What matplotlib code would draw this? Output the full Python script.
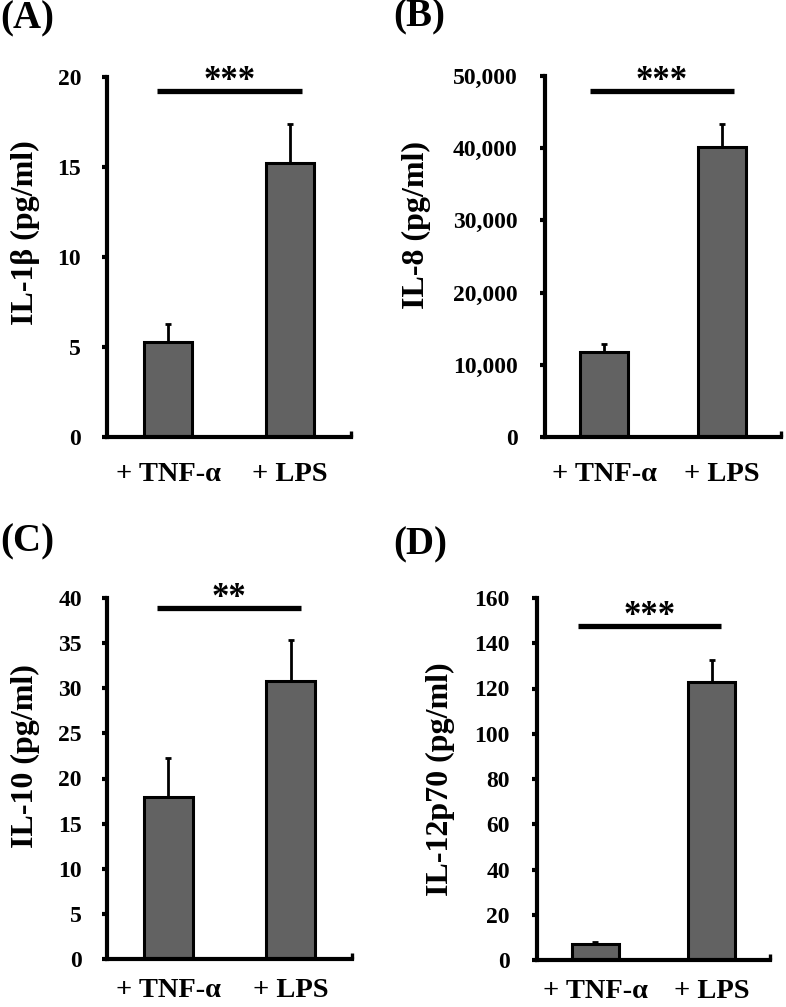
import matplotlib.pyplot as plt
import matplotlib.ticker as mticker
import numpy as np

plt.rcParams['font.family'] = ['Liberation Serif', 'DejaVu Serif']
plt.rcParams['font.weight'] = 'bold'

groups = ['+ TNF-\u03b1', '+ LPS']

il1b = [5.3, 15.2]
il1b_err = [1.0, 2.2]
il8 = [11800, 40150]
il8_err = [1100, 3200]
il10 = [18.0, 30.8]
il10_err = [4.3, 4.5]
il12 = [7.0, 122.8]
il12_err = [0.8, 9.8]

panel_tags = ['(A)', '(B)', '(C)', '(D)']
ylabels = ['IL-1\u03b2 (pg/ml)', 'IL-8 (pg/ml)', 'IL-10 (pg/ml)', 'IL-12p70 (pg/ml)']
stars = ['***', '***', '**', '***']
ymax = [20, 50000, 40, 160]
ystep = [5, 10000, 5, 20]
sig_y = [19.2, 47900, 38.9, 147.6]

# layout in pixels of the 786x1007 figure: (left, bottom, right, top)
W, H = 786, 1007
boxes = [
    (107, 437, 351, 77),
    (545, 437, 781, 76),
    (107, 959, 352, 598),
    (537, 960, 770, 598),
]
tag_xy = [(0, 19), (393, 17), (0, 542), (393, 545)]
ylab_px = [(25, 233), (416, 225), (25, 756), (440, 779)]
ytick_pad = [15, 16, 14.5, 16]
xtick_pad = [18, 18, 13.5, 13.5]
sig_span = [(-0.09, 1.1), (-0.12, 1.1), (-0.09, 1.08), (-0.15, 1.08)]

data = [(il1b, il1b_err), (il8, il8_err), (il10, il10_err), (il12, il12_err)]

fig = plt.figure(figsize=(7.86, 10.07), dpi=100)
x = np.arange(len(groups))

for i, (vals, errs) in enumerate(data):
    l, b, r, t = boxes[i]
    ax = fig.add_axes([l / W, 1 - b / H, (r - l) / W, (b - t) / H])
    ax.bar(x, vals, width=0.40, color='#626262', edgecolor='black', linewidth=2.2, zorder=2)
    ax.errorbar(x, vals, yerr=[np.zeros(len(vals)), errs], fmt='none', ecolor='black',
                elinewidth=2.0, capsize=2.5, capthick=2.0, zorder=3)

    ax.set_xlim(-0.5, 1.5)
    ax.set_ylim(0, ymax[i])
    ax.set_yticks(np.arange(0, ymax[i] + 1, ystep[i]))
    if ymax[i] >= 10000:
        ax.yaxis.set_major_formatter(mticker.StrMethodFormatter('{x:,.0f}'))
    ax.set_xticks(x)
    ax.set_xticklabels(groups)
    ax.set_xticks([1.5], minor=True)

    for s in ['top', 'right']:
        ax.spines[s].set_visible(False)
    for s in ['left', 'bottom']:
        ax.spines[s].set_linewidth(3.0)
    ax.tick_params(axis='y', direction='out', length=3.6, width=3.0, labelsize=17,
                   pad=ytick_pad[i])
    ax.tick_params(axis='x', which='major', direction='in', length=4, width=2.4,
                   labelsize=20.5, pad=xtick_pad[i])
    ax.tick_params(axis='x', which='minor', direction='in', length=4, width=2.4)

    ax.set_ylabel(ylabels[i], fontsize=23, fontweight='bold', va='center')
    lx, ly = ylab_px[i]
    ax.yaxis.set_label_coords(lx / W, 1 - ly / H, transform=fig.transFigure)

    x0, x1 = sig_span[i]
    ax.plot([x0, x1], [sig_y[i], sig_y[i]], color='black', lw=3.8, clip_on=False,
            solid_capstyle='butt')
    ax.annotate(stars[i], xy=((x0 + x1) / 2, sig_y[i]), xytext=(0, 1),
                textcoords='offset points', ha='center', va='baseline',
                fontsize=25, fontweight='bold', annotation_clip=False)

    tx, ty = tag_xy[i]
    fig.text(tx / W, 1 - ty / H, panel_tags[i], fontsize=28, fontweight='bold',
             ha='left', va='center')

fig.savefig('out.png', dpi=100)
